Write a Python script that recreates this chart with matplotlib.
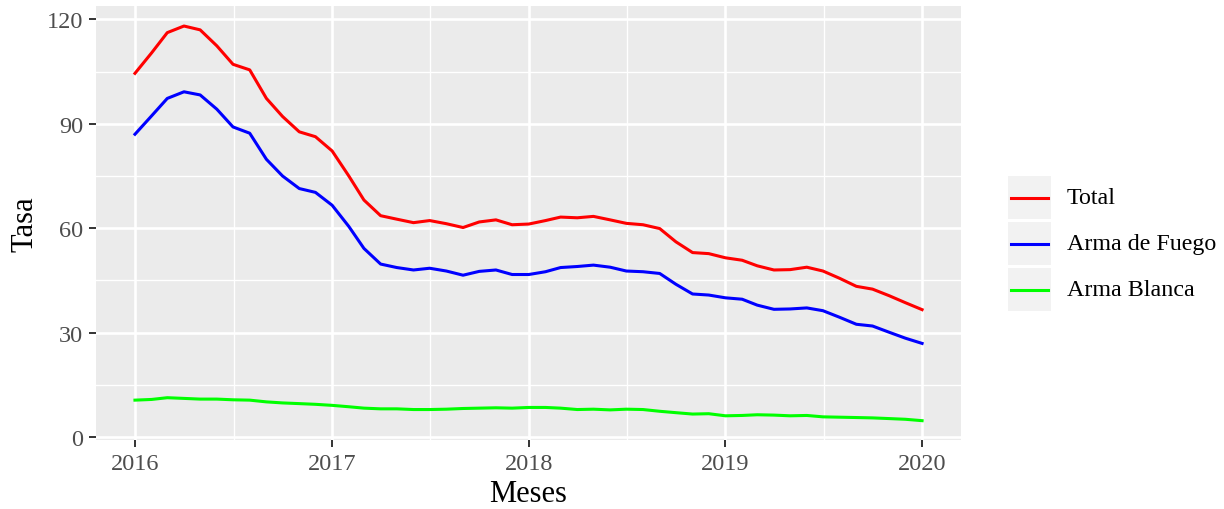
import numpy as np
import pandas as pd
import matplotlib
matplotlib.use("Agg")
import matplotlib.pyplot as plt
from matplotlib.patches import Rectangle
from matplotlib.lines import Line2D

plt.rcParams["font.family"] = ["Liberation Serif", "DejaVu Serif"]

meses = pd.date_range("2016-01-01", periods=49, freq="MS")

total = [
    104.5, 110.4, 116.2, 118.1, 117.0, 112.4, 107.1, 105.5, 97.3, 92.1, 87.7, 86.3,
    82.2, 75.0, 68.1, 63.6, 62.6, 61.6, 62.2, 61.3, 60.2, 61.8, 62.4, 61.0,
    61.2, 62.2, 63.2, 63.0, 63.4, 62.4, 61.4, 61.0, 59.9, 56.1, 53.0, 52.7,
    51.5, 50.8, 49.2, 48.0, 48.1, 48.8, 47.7, 45.6, 43.3, 42.5, 40.6, 38.6,
    36.6,
]
arma_fuego = [
    87.0, 92.3, 97.3, 99.2, 98.3, 94.2, 89.1, 87.3, 79.8, 75.0, 71.4, 70.3,
    66.6, 60.5, 54.2, 49.7, 48.7, 48.0, 48.5, 47.7, 46.5, 47.6, 48.0, 46.7,
    46.7, 47.5, 48.7, 49.0, 49.4, 48.8, 47.7, 47.5, 47.0, 43.9, 41.1, 40.8,
    40.0, 39.6, 37.9, 36.7, 36.8, 37.1, 36.3, 34.4, 32.4, 31.9, 30.1, 28.4,
    26.9,
]
arma_blanca = [
    10.6, 10.8, 11.3, 11.1, 10.9, 10.9, 10.7, 10.6, 10.1, 9.8, 9.6, 9.4,
    9.1, 8.7, 8.3, 8.1, 8.1, 7.9, 7.9, 8.0, 8.2, 8.3, 8.4, 8.3,
    8.5, 8.5, 8.3, 7.9, 8.0, 7.8, 8.0, 7.9, 7.4, 7.0, 6.6, 6.7,
    6.1, 6.2, 6.4, 6.3, 6.1, 6.2, 5.8, 5.7, 5.6, 5.5, 5.3, 5.1,
    4.7,
]

series = {
    "Total": (total, "#FF0000"),
    "Arma de Fuego": (arma_fuego, "#0000FF"),
    "Arma Blanca": (arma_blanca, "#00FF00"),
}
y_ticks = [0, 30, 60, 90, 120]
y_minor = [15, 45, 75, 105]
x_years = [2016, 2017, 2018, 2019, 2020]

fig = plt.figure(figsize=(12.24, 5.1), dpi=100)
ax = fig.add_axes([0.0781, 0.1345, 0.7074, 0.8512])
ax.set_facecolor("#EBEBEB")
for s in ax.spines.values():
    s.set_visible(False)

for name, (vals, col) in series.items():
    ax.plot(meses, vals, color=col, lw=2.2, solid_joinstyle="round", label=name)

ax.margins(x=0.05, y=0.05)

major_x = [pd.Timestamp(f"{y}-01-01") for y in x_years]
minor_x = [pd.Timestamp(f"{y}-01-01") + (pd.Timestamp(f"{y + 1}-01-01") - pd.Timestamp(f"{y}-01-01")) / 2
           for y in x_years[:-1]]
ax.set_xticks(major_x)
ax.set_xticklabels([str(y) for y in x_years])
ax.set_xticks(minor_x, minor=True)
ax.set_yticks(y_ticks)
ax.set_yticks(y_minor, minor=True)

ax.grid(which="major", color="white", lw=1.9)
ax.grid(which="minor", color="white", lw=0.95)
ax.set_axisbelow(True)

ax.tick_params(which="major", length=5, width=1.4, color="#333333",
               labelsize=17.5, labelcolor="#4D4D4D", pad=4)
ax.tick_params(which="minor", length=0)

ax.set_xlabel("Meses", fontsize=22, labelpad=4)
ax.set_ylabel("Tasa", fontsize=22, labelpad=5)

# legend drawn as ggplot-style keys
lax = fig.add_axes([0, 0, 1, 1], facecolor="none")
lax.set_xlim(0, 1224)
lax.set_ylim(510, 0)
lax.axis("off")
key_top = 177
for i, (name, (vals, col)) in enumerate(series.items()):
    y0 = key_top + i * 46
    lax.add_patch(Rectangle((1008, y0), 43, 43, facecolor="#F2F2F2", edgecolor="none"))
    lax.add_line(Line2D([1011, 1048], [y0 + 21.5, y0 + 21.5], color=col, lw=2.2))
    lax.text(1067, y0 + 22, name, fontsize=17.3, va="center", ha="left", color="black")

fig.savefig("out.png", dpi=100)
